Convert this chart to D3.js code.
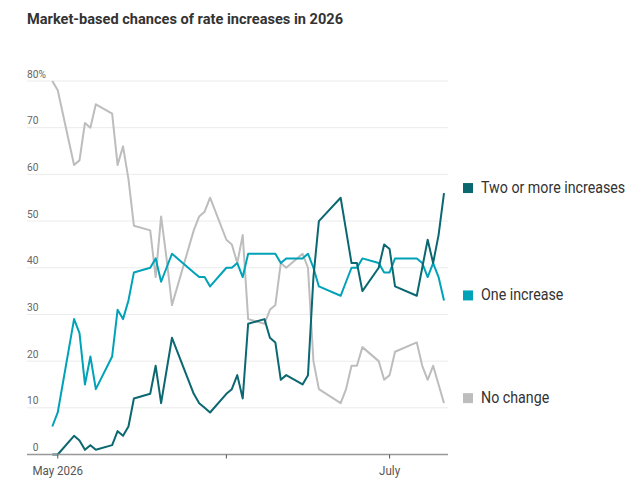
<!DOCTYPE html>
<html>
<head>
<meta charset="utf-8">
<script src="https://cdn.jsdelivr.net/npm/d3@7"></script>
<style>
  body { margin: 0; background: #fff; }
  svg { display: block; }
  text { font-family: "Roboto", "Noto Sans", sans-serif; }
</style>
</head>
<body>
<svg id="chart" width="643" height="494"></svg>
<script>
const width = 643;
const height = 494;

// trading days
const dates = [
  "2026-04-30", "2026-05-01", "2026-05-04", "2026-05-05", "2026-05-06", "2026-05-07", "2026-05-08",
  "2026-05-11", "2026-05-12", "2026-05-13", "2026-05-14", "2026-05-15",
  "2026-05-18", "2026-05-19", "2026-05-20", "2026-05-21", "2026-05-22",
  "2026-05-26", "2026-05-27", "2026-05-28", "2026-05-29",
  "2026-06-01", "2026-06-02", "2026-06-03", "2026-06-04", "2026-06-05",
  "2026-06-08", "2026-06-09", "2026-06-10", "2026-06-11", "2026-06-12",
  "2026-06-15", "2026-06-16", "2026-06-17", "2026-06-18",
  "2026-06-22", "2026-06-23", "2026-06-24", "2026-06-25", "2026-06-26",
  "2026-06-29", "2026-06-30", "2026-07-01", "2026-07-02",
  "2026-07-06", "2026-07-07", "2026-07-08", "2026-07-09", "2026-07-10", "2026-07-11"
];
const twoOrMore = [0, 0, 4, 3, 1, 2, 1, 2, 5, 4, 6, 12, 13, 19, 11, 18, 25, 13, 11, 10, 9,
  13, 14, 17, 12, 28, 29, 25, 24, 16, 17, 15, 17, 38, 50, 55, 48, 41, 41, 35,
  40, 45, 44, 36, 34, 40, 46, 41, 47, 56];
const oneIncrease = [6, 9, 29, 26, 15, 21, 14, 21, 31, 29, 33, 39, 40, 42, 37, 40, 43, 39, 38, 38, 36,
  40, 40, 41, 38, 43, 43, 43, 43, 41, 42, 42, 43, 40, 36, 34, 37, 40, 40, 42,
  41, 39, 39, 42, 42, 41, 38, 41, 38, 33];
const noChange = [80, 78, 62, 63, 71, 70, 75, 73, 62, 66, 59, 49, 48, 38, 51, 42, 32, 48, 51, 52, 55,
  46, 45, 41, 47, 29, 28, 31, 32, 41, 40, 43, 40, 20, 14, 11, 14, 19, 19, 23,
  20, 16, 17, 22, 24, 19, 16, 19, 15, 11];

const seriesNames = ["No change", "One increase", "Two or more increases"];
const seriesColors = ["#bdbdbd", "#00a2b8", "#0b6770"];
const seriesValues = [noChange, oneIncrease, twoOrMore];

const yTicks = [0, 10, 20, 30, 40, 50, 60, 70, 80];
const xTickDates = ["2026-05-01", "2026-06-01", "2026-07-01"];
const xTickLabels = ["May 2026", "", "July"];

const parse = d3.timeParse("%Y-%m-%d");
const x = d3.scaleTime()
  .domain([parse(dates[0]), parse(dates[dates.length - 1])])
  .range([52.3, 444]);
const y = d3.scaleLinear().domain([0, 80]).range([454.5, 81]);

const gridLeft = 27;
const gridRight = 448;
const narrow = 0.89; // the original face is condensed

const svg = d3.select("#chart");

// title
svg.append("text")
  .attr("x", 27)
  .attr("y", 23.5)
  .attr("font-size", 15)
  .attr("font-weight", "bold")
  .attr("fill", "#333")
  .attr("textLength", 316)
  .attr("lengthAdjust", "spacingAndGlyphs")
  .text("Market-based chances of rate increases in 2026");

// grid
svg.append("g").selectAll("line")
  .data(yTicks.filter(d => d > 0))
  .join("line")
  .attr("x1", gridLeft).attr("x2", gridRight)
  .attr("y1", d => y(d)).attr("y2", d => y(d))
  .attr("stroke", "#ebebeb")
  .attr("stroke-width", 1);

const yLabels = svg.append("g")
  .attr("font-size", 11.5)
  .attr("fill", "#666");
yLabels.selectAll("text")
  .data(yTicks)
  .join("text")
  .attr("transform", d => `translate(38.5,${y(d) - 3.5}) scale(${narrow},1)`)
  .attr("text-anchor", "end")
  .text(d => d);
yLabels.append("text")
  .attr("transform", `translate(38.5,${y(80) - 3.5}) scale(${narrow},1)`)
  .text("%");

// lines
const line = d3.line()
  .x((d, i) => x(parse(dates[i])))
  .y(d => y(d));

svg.append("g").selectAll("path")
  .data(seriesValues)
  .join("path")
  .attr("d", d => line(d))
  .attr("fill", "none")
  .attr("stroke", (d, i) => seriesColors[i])
  .attr("stroke-width", 2)
  .attr("stroke-linejoin", "round");

// x axis
const xAxis = svg.append("g").attr("transform", `translate(0,${y(0)})`);
xAxis.append("line")
  .attr("x1", gridLeft).attr("x2", gridRight)
  .attr("stroke", "#999")
  .attr("stroke-width", 1.7);
xAxis.selectAll("line.tick")
  .data(xTickDates)
  .join("line")
  .attr("class", "tick")
  .attr("x1", d => x(parse(d))).attr("x2", d => x(parse(d)))
  .attr("y1", 0).attr("y2", 4)
  .attr("stroke", "#555")
  .attr("stroke-width", 1);
xAxis.selectAll("text")
  .data(xTickDates)
  .join("text")
  .attr("transform", d => `translate(${x(parse(d))},20.5) scale(${narrow},1)`)
  .attr("text-anchor", "middle")
  .attr("font-size", 13)
  .attr("fill", "#555")
  .text((d, i) => xTickLabels[i]);

// legend at line ends
const legend = svg.append("g").selectAll("g")
  .data(seriesNames)
  .join("g")
  .attr("transform", (d, i) => {
    const v = seriesValues[i];
    return `translate(463,${y(v[v.length - 1])})`;
  });
legend.append("rect")
  .attr("x", 0).attr("y", -10)
  .attr("width", 10).attr("height", 10)
  .attr("fill", (d, i) => seriesColors[i]);
legend.append("text")
  .attr("transform", `translate(18,0) scale(${narrow},1)`)
  .attr("font-size", 16)
  .attr("fill", "#333")
  .text(d => d);
</script>
</body>
</html>
